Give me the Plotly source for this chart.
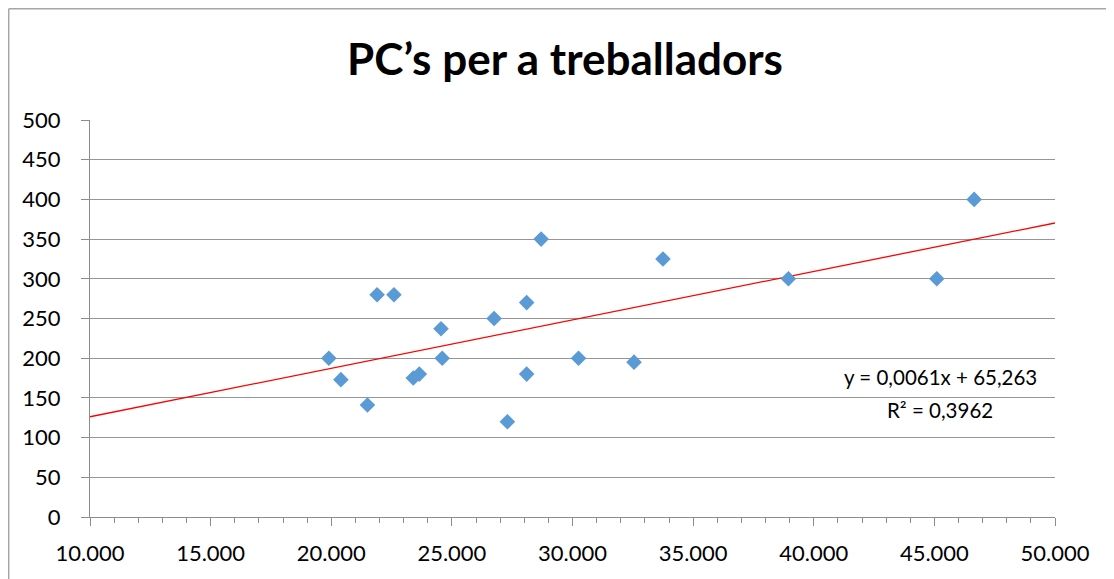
import plotly.graph_objects as go

# Data
salaris = [19900, 20400, 21500, 21900, 22600, 23400, 23650, 24550, 24600, 26750,
           27300, 28100, 28100, 28700, 30250, 32550, 33750, 38950, 45100, 46650]
pcs = [200, 173, 141, 280, 280, 175, 180, 237, 200, 250,
       120, 270, 180, 350, 200, 195, 325, 300, 300, 400]

slope = 0.0061
intercept = 65.263
r2_text = "R² = 0,3962"
eq_text = "y = 0,0061x + 65,263"
title_text = "PC’s per a treballadors"

x_range = [10000, 50000]
y_range = [0, 500]

FONT = "Lato, Carlito, Calibri, sans-serif"

fig = go.Figure()
fig.add_trace(go.Scatter(
    x=x_range, y=[slope * v + intercept for v in x_range],
    mode="lines", line=dict(color="#ff0000", width=1.3),
    hoverinfo="skip", showlegend=False))
fig.add_trace(go.Scatter(
    x=salaris, y=pcs, mode="markers",
    marker=dict(symbol="diamond", size=12, color="#5b9bd5"),
    showlegend=False))

# page has an 8px body margin; figure placed at (8, 8)
OFF = 8
W, H = 1114 - OFF, 579 - OFF
L, R, T, B = 90 - OFF, 59, 120 - OFF, 62
pw, ph = W - L - R, H - T - B

def px_x(p):  # page pixel -> paper x
    return (p - OFF - L) / pw

def px_y(p):  # page pixel -> paper y
    return (H - B - (p - OFF)) / ph

fig.update_layout(
    width=W, height=H,
    margin=dict(l=L, r=R, t=T, b=B),
    paper_bgcolor="white", plot_bgcolor="white",
    separators=",.",
    font=dict(family=FONT, size=22, color="#000000"),
    title=dict(text="<b>" + title_text + "</b>", x=(565 - OFF) / W, xref="container",
               y=1 - (60 - OFF) / H, yref="container", xanchor="center", yanchor="middle",
               font=dict(family=FONT, size=44, color="#000000")),
    xaxis=dict(range=x_range, dtick=5000, tickformat=",d",
               showgrid=False, zeroline=False,
               showline=True, linecolor="#8c8c8c", linewidth=1,
               ticks="outside", ticklen=8, tickcolor="#8c8c8c",
               minor=dict(dtick=1000, ticks="outside", ticklen=5, tickcolor="#8c8c8c"),
               ticklabelstandoff=9,
               tickfont=dict(family=FONT, size=22)),
    yaxis=dict(range=y_range, dtick=50,
               showgrid=True, gridcolor="#969696", gridwidth=1,
               zeroline=False,
               showline=True, linecolor="#8c8c8c", linewidth=1,
               ticks="outside", ticklen=8, tickcolor="#8c8c8c",
               ticklabelstandoff=16,
               tickfont=dict(family=FONT, size=22)),
    shapes=[
        # white box behind the trendline label
        dict(type="rect", xref="paper", yref="paper",
             x0=px_x(835), x1=px_x(1056), y0=px_y(432), y1=px_y(350),
             fillcolor="white", line=dict(width=0), layer="between"),
        # outer chart border (top and left)
        dict(type="line", xref="paper", yref="paper",
             x0=px_x(8.7), x1=px_x(1130), y0=px_y(8.7), y1=px_y(8.7),
             line=dict(color="#a6a6a6", width=1.5)),
        dict(type="line", xref="paper", yref="paper",
             x0=px_x(8.7), x1=px_x(8.7), y0=px_y(8.7), y1=px_y(600),
             line=dict(color="#a6a6a6", width=1.5)),
    ],
    annotations=[
        dict(text=eq_text, xref="paper", yref="paper", x=px_x(940), y=px_y(377),
             xanchor="center", yanchor="middle", showarrow=False,
             font=dict(family=FONT, size=20.5, color="#000000")),
        dict(text=r2_text, xref="paper", yref="paper", x=px_x(940), y=px_y(410),
             xanchor="center", yanchor="middle", showarrow=False,
             font=dict(family=FONT, size=20.5, color="#000000")),
    ],
)

fig.write_html("out.html")
